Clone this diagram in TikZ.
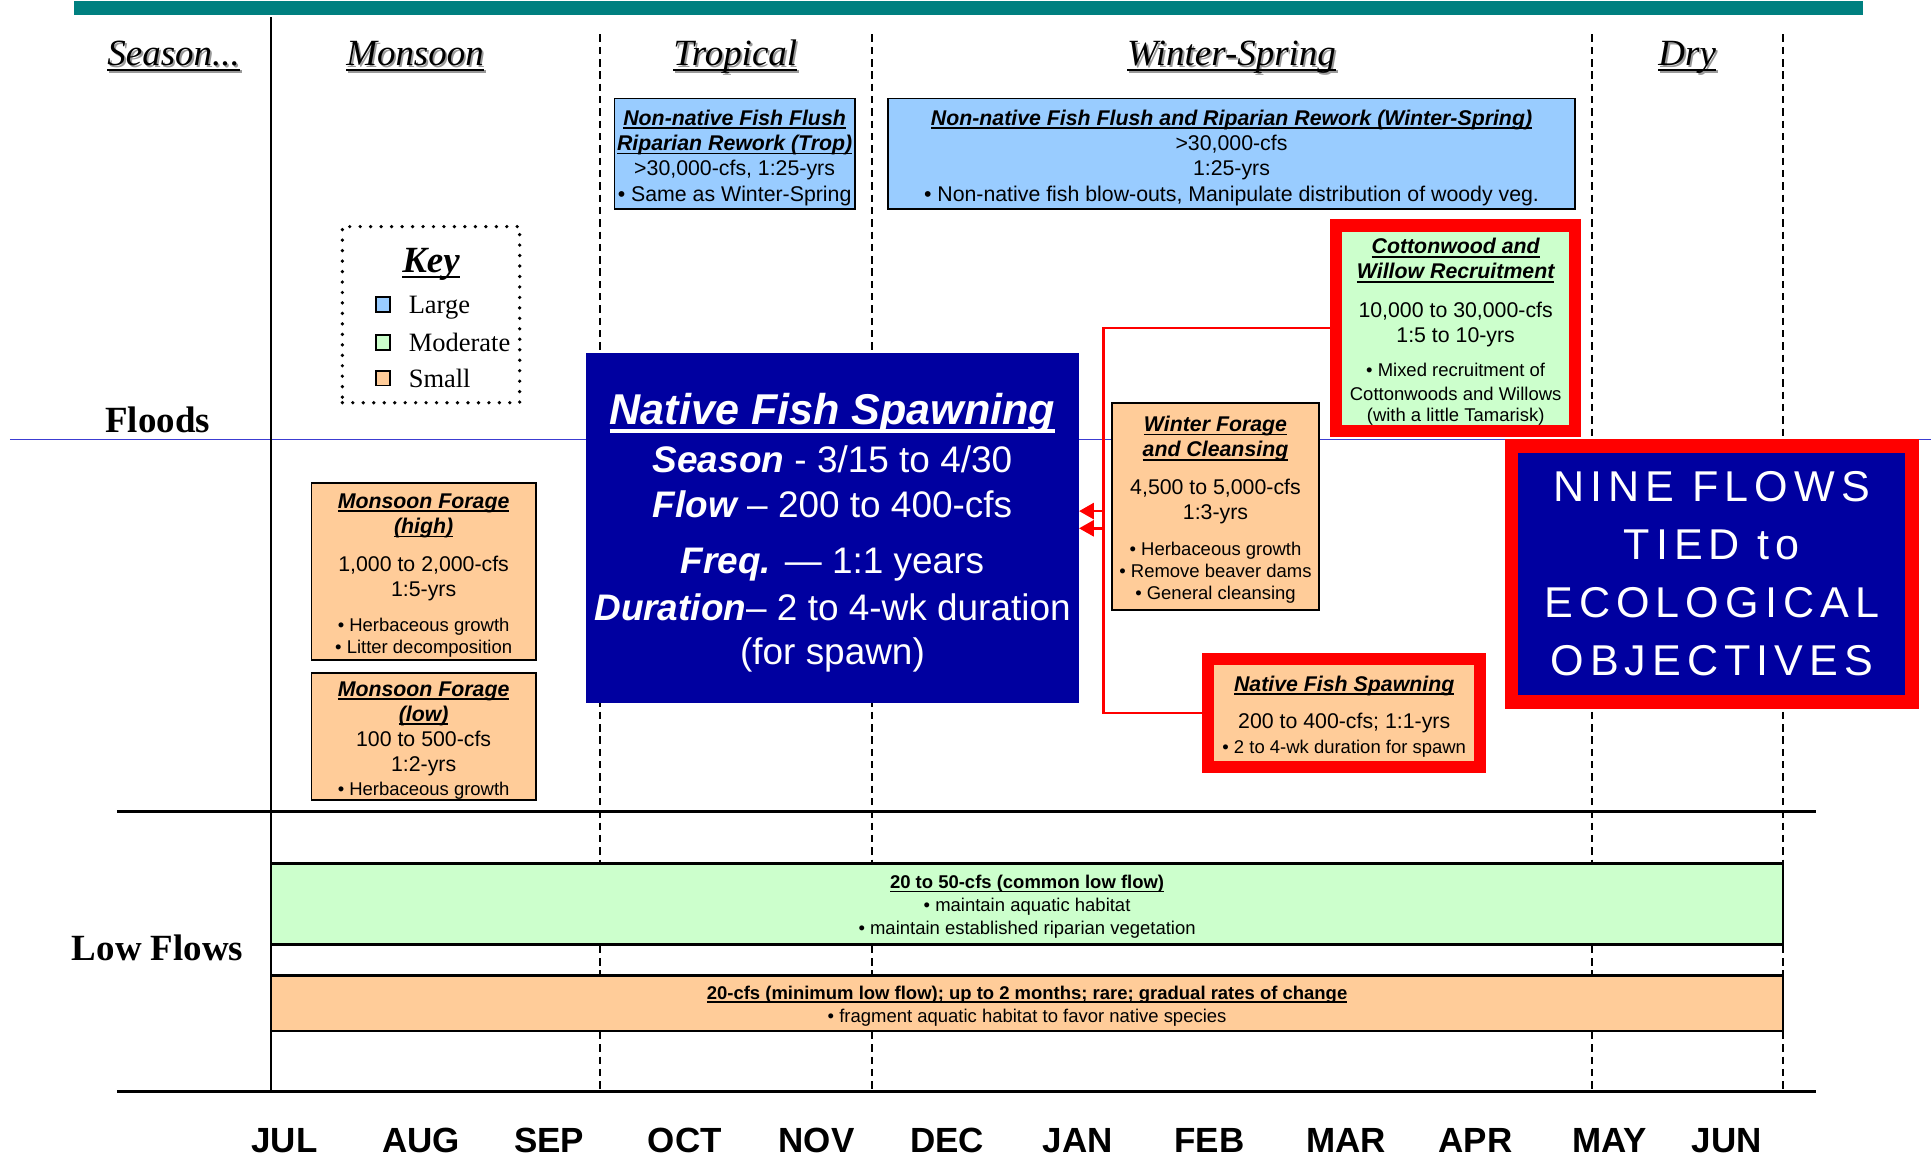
\documentclass[tikz,border=0pt]{standalone}
\usepackage{fontspec}
\setmainfont{Liberation Sans}
\newfontfamily\tms{Liberation Serif}
\usetikzlibrary{positioning, arrows.meta}

\definecolor{lblue}{HTML}{99CCFF}
\definecolor{lgreen}{HTML}{CCFFCC}
\definecolor{lorange}{HTML}{FFCC99}
\definecolor{tealbar}{HTML}{008080}
\definecolor{navy}{RGB}{0,0,160}
\definecolor{shgray}{gray}{0.6}
\definecolor{gridblue}{RGB}{60,60,210}

\newcommand{\ulin}[2][1.4pt]{\setbox0=\hbox{#2}\rlap{\rule[\dimexpr-0.1em-#1\relax]{\wd0}{#1}}\box0}
\newcommand{\hdg}[1]{\setbox0=\hbox{#1}%
	\rlap{\kern1.5pt\raise-1.5pt\hbox{\color{shgray}\copy0}}%
	\rlap{\kern1.5pt\raise-1.5pt\hbox{\color{shgray}\rule[\dimexpr-0.09em-1.8pt\relax]{\wd0}{1.8pt}}}%
	\rlap{\rule[\dimexpr-0.09em-1.8pt\relax]{\wd0}{1.8pt}}\box0}
\newcommand{\bxt}[1]{\ulin{\bfseries\itshape #1}}
\newcommand{\smb}{\fontsize{15}{18}\selectfont}
\newcommand{\tp}[1][18.6pt]{\rule{0pt}{#1}}

\begin{document}
\begin{tikzpicture}[x=1pt, y=-1pt,
	bx/.style={draw=black, line width=1.5pt, inner sep=0pt, align=center, font=\fontsize{17.3}{20.5}\selectfont},
	redbx/.style={bx, draw=red, line width=10pt},
	band/.style={draw=black, line width=2pt, minimum width=1228pt, inner sep=0pt, align=center, font=\fontsize{15}{18.5}\selectfont},
	hd/.style={anchor=base, inner sep=0pt, font=\tms\itshape\fontsize{30}{36}\selectfont},
	side/.style={anchor=base, inner sep=0pt, font=\tms\bfseries\fontsize{30}{36}\selectfont},
	month/.style={anchor=base, inner sep=0pt, font=\bfseries\fontsize{28.4}{34}\selectfont},
	keysq/.style={draw=black, line width=1.5pt, minimum size=12pt, inner sep=0pt},
	keytxt/.style={inner sep=0pt, font=\tms\fontsize{21.5}{25}\selectfont},
	gridd/.style={dash pattern=on 6pt off 4pt, line width=1.5pt},
	redln/.style={draw=red, line width=2pt}]
	\useasboundingbox (0,0) rectangle (1568,940);
	
	\fill[tealbar] (60,1) rectangle (1513,12);
	\draw[gridblue, line width=1pt] (8,357) -- (1568,357);
	\draw[line width=1.5pt] (220,14) -- (220,886);
	\foreach \xx in {487,708,1293,1448}
		\draw[gridd] (\xx,28) -- (\xx,886);
	\draw[line width=2.5pt] (95,659) -- (1475,659);
	\draw[line width=2.5pt] (95,886) -- (1475,886);
	
	\node[hd] (hseason) at (141,53) {\hdg{Season...}};
	\node[hd] (hmonsoon) at (337,53) {\hdg{Monsoon}};
	\node[hd] (htrop) at (597,53) {\hdg{Tropical}};
	\node[hd] (hwinter) at (1000,53) {\hdg{Winter-Spring}};
	\node[hd] (hdry) at (1370,53) {\hdg{Dry}};
	\node[side] (floods) at (128,351) {Floods};
	\node[side] (lowflows) at (128,780) {Low Flows};
	
	\node[draw, dash pattern=on 0pt off 8.5pt, line cap=round, line width=3pt, minimum width=144pt, minimum height=143pt] (keybox) at (350,255.5) {};
	\node[anchor=base, inner sep=0pt, font=\tms\bfseries\itshape\fontsize{30}{36}\selectfont] (keyttl) at (350,221) {\ulin[2pt]{Key}};
	\foreach \nm/\cl/\yy [count=\i] in {Large/lblue/247, Moderate/lgreen/278, Small/lorange/307} {
		\node[keysq, fill=\cl] (sq\i) at (311,\yy) {};
		\node[keytxt, right=14pt of sq\i, anchor=base west, yshift=-7.5pt] (kt\i) {\nm};
	}
	
	\node[bx, fill=lblue, minimum width=195pt, minimum height=90pt] (trop) at (596.5,125)
		{\tp\bxt{Non-native Fish Flush}\\ \bxt{Riparian Rework (Trop)}\\ >30,000-cfs, 1:25-yrs\\ • Same as Winter-Spring};
	\node[bx, fill=lblue, minimum width=558pt, minimum height=90pt] (winspr) at (1000,125)
		{\tp\bxt{Non-native Fish Flush and Riparian Rework (Winter-Spring)}\\ >30,000-cfs\\ 1:25-yrs\\ • Non-native fish blow-outs, Manipulate distribution of woody veg.};
	
	\node[redbx, fill=lgreen, minimum width=194pt, minimum height=167pt] (cotton) at (1182,266.5)
		{\tp\bxt{Cottonwood and}\\ \bxt{Willow Recruitment}\\[10.5pt] 10,000 to 30,000-cfs\\ 1:5 to 10-yrs\\[7.5pt] \smb • Mixed recruitment of\\[-1.5pt] \smb Cottonwoods and Willows\\[-3pt] \smb (with a little Tamarisk)};
	\node[bx, fill=lorange, minimum width=168pt, minimum height=168pt] (wforage) at (987,411)
		{\tp\bxt{Winter Forage}\\ \bxt{and Cleansing}\\[10pt] 4,500 to 5,000-cfs\\ 1:3-yrs\\[8.5pt] \smb • Herbaceous growth\\[-2.5pt] \smb • Remove beaver dams\\[-2.5pt] \smb • General cleansing};
	\node[redbx, fill=lorange, minimum width=221pt, minimum height=88pt] (spawnsm) at (1091.5,579)
		{\tp\bxt{Native Fish Spawning}\\[10pt] 200 to 400-cfs; 1:1-yrs\\ \smb • 2 to 4-wk duration for spawn};
	
	\node[bx, fill=lorange, minimum width=182pt, minimum height=144pt] (monhigh) at (344,464)
		{\tp\bxt{Monsoon Forage}\\ \bxt{(high)}\\[10pt] 1,000 to 2,000-cfs\\ 1:5-yrs\\[8pt] \smb • Herbaceous growth\\[-2.5pt] \smb • Litter decomposition};
	\node[bx, fill=lorange, minimum width=182pt, minimum height=102pt] (monlow) at (344,598)
		{\tp\bxt{Monsoon Forage}\\ \bxt{(low)}\\ 100 to 500-cfs\\ 1:2-yrs\\[-1pt] \smb • Herbaceous growth};
	
	\node[fill=navy, text=white, minimum width=400pt, minimum height=284pt, inner sep=0pt, align=center, font=\fontsize{30}{36}\selectfont] (bigfish) at (676,429)
		{\fontsize{35}{40}\selectfont\tp[33pt]\ulin[3.5pt]{\bfseries\itshape Native Fish Spawning}\\[3pt]
		{\bfseries\itshape Season} - 3/15 to 4/30\\
		{\bfseries\itshape Flow} – 200 to 400-cfs\\[10pt]
		{\bfseries\itshape Freq.} — 1:1 years\\[2pt]
		{\bfseries\itshape Duration}– 2 to 4-wk duration\\
		(for spawn)};
	
	\node[draw=red, line width=11pt, fill=navy, text=white, minimum width=325pt, minimum height=208pt, inner sep=0pt, align=center, font=\fontsize{35}{47}\selectfont\addfontfeature{LetterSpace=14}] (nine) at (1390,466)
		{NINE FLOWS\\ TIED to\\ ECOLOGICAL\\ OBJECTIVES};
	
	\coordinate (bus) at (896,420);
	\coordinate (arrA) at (896,415);
	\coordinate (arrB) at (896,429);
	\draw[redln] (cotton.west) -- (cotton.west -| bus) -- (spawnsm.west -| bus) -- (spawnsm.west);
	\draw[redln, -{Triangle[length=12pt, width=13pt]}] (arrA) -- (arrA -| bigfish.east);
	\draw[redln, -{Triangle[length=12pt, width=13pt]}] (arrB) -- (arrB -| bigfish.east);
	
	\node[band, fill=lgreen, minimum height=66pt] (lowcom) at (834,734)
		{\tp[15.6pt]\ulin[1.2pt]{\bfseries 20 to 50-cfs (common low flow)}\\ • maintain aquatic habitat\\ • maintain established riparian vegetation};
	\node[band, fill=lorange, minimum height=45pt] (lowmin) at (834,814.5)
		{\tp[15.6pt]\ulin[1.2pt]{\bfseries 20-cfs (minimum low flow); up to 2 months; rare; gradual rates of change}\\ • fragment aquatic habitat to favor native species};
	
	\foreach \m/\xx in {JUL/231, AUG/342, SEP/446, OCT/556, NOV/663, DEC/769, JAN/875, FEB/982, MAR/1093, APR/1198, MAY/1307, JUN/1402}
		\node[month] (m\m) at (\xx,936) {\m};
	
\end{tikzpicture}
\end{document}
